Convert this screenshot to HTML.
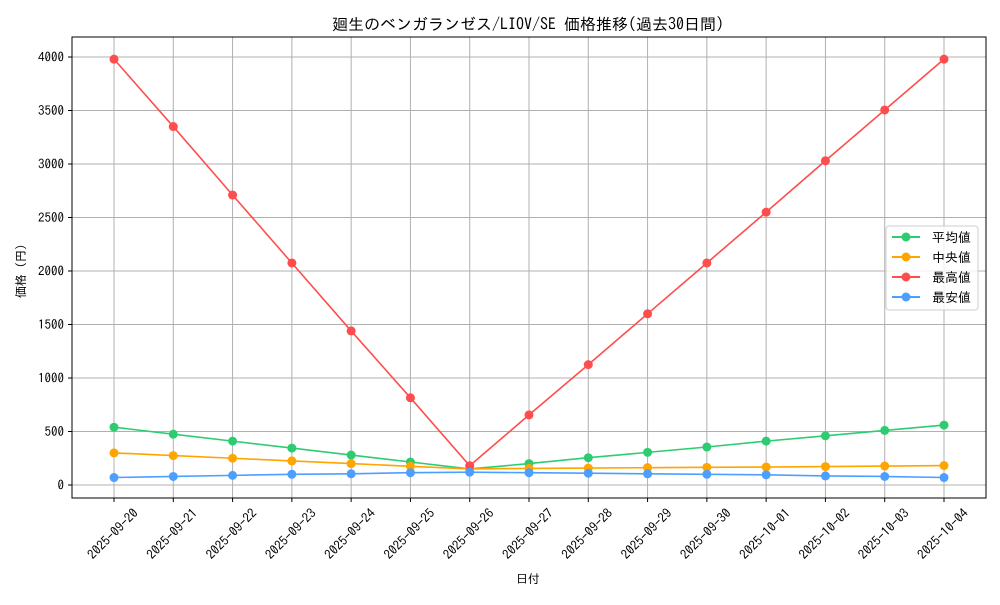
<!DOCTYPE html>
<html><head><meta charset="utf-8"><style>
html,body{margin:0;padding:0;background:#fff}
svg text{font-family:"IPAGothic","Liberation Sans","Noto Sans CJK JP",sans-serif;fill:#000}
</style></head><body>
<svg id="c" width="1000" height="600" xmlns="http://www.w3.org/2000/svg">
<rect width="1000" height="600" fill="#fff"/>
<text x="528" y="30" font-size="16" text-anchor="middle">廻生のベンガランゼス/LIOV/SE 価格推移(過去30日間)</text>
<text x="528" y="583" font-size="12" text-anchor="middle">日付</text>
<text transform="translate(25,271) rotate(-90)" font-size="12" text-anchor="middle">価格 (円)</text>
<g id="g"></g>
<rect x="72" y="37" width="914" height="461" fill="none" stroke="#000" stroke-width="1"/>
<g transform="translate(886,226)">
<rect x="0" y="0" width="92" height="84" rx="3" fill="#fff" fill-opacity="0.8" stroke="#ccc"/>
<line x1="6" y1="11" x2="34" y2="11" stroke="#2ecc71" stroke-width="2"/><circle cx="20" cy="11" r="4.5" fill="#2ecc71"/><text x="46" y="16" font-size="13">平均値</text>
<line x1="6" y1="31" x2="34" y2="31" stroke="#ffa500" stroke-width="2"/><circle cx="20" cy="31" r="4.5" fill="#ffa500"/><text x="46" y="36" font-size="13">中央値</text>
<line x1="6" y1="51" x2="34" y2="51" stroke="#ff4d4d" stroke-width="2"/><circle cx="20" cy="51" r="4.5" fill="#ff4d4d"/><text x="46" y="56" font-size="13">最高値</text>
<line x1="6" y1="71" x2="34" y2="71" stroke="#4d9fff" stroke-width="2"/><circle cx="20" cy="71" r="4.5" fill="#4d9fff"/><text x="46" y="76" font-size="13">最安値</text>
</g>
</svg>
<script>
var g=document.getElementById('g'),h="";
function X(i){return 114+59.286*i}function Y(v){return 485-v*0.107}
for(var v=0;v<=4000;v+=500){var y=Y(v);h+='<line x1="72" x2="986" y1="'+y+'" y2="'+y+'" stroke="#b0b0b0" stroke-width="1"/><line x1="68" x2="72" y1="'+y+'" y2="'+y+'" stroke="#000"/><text x="64" y="'+(y+4.5)+'" font-size="13" text-anchor="end">'+v+'</text>';}
var d=["2025-09-20","2025-09-21","2025-09-22","2025-09-23","2025-09-24","2025-09-25","2025-09-26","2025-09-27","2025-09-28","2025-09-29","2025-09-30","2025-10-01","2025-10-02","2025-10-03","2025-10-04"];
for(var i=0;i<15;i++){var x=X(i);h+='<line x1="'+x+'" x2="'+x+'" y1="37" y2="498" stroke="#b0b0b0" stroke-width="1"/><line x1="'+x+'" x2="'+x+'" y1="498" y2="502" stroke="#000"/><text transform="translate('+(x+2)+',537) rotate(-45)" font-size="13" text-anchor="middle">'+d[i]+'</text>';}
var S=[["#2ecc71",[540,475,410,345,280,215,150,200,255,305,355,410,460,510,560]],["#ffa500",[300,275,250,225,200,175,150,155,158,162,165,168,172,177,182]],["#ff4d4d",[3980,3350,2710,2075,1440,815,180,655,1125,1600,2075,2550,3030,3505,3980]],["#4d9fff",[70,80,90,100,105,115,120,115,110,105,100,95,85,80,70]]];
S.forEach(function(s){var p=s[1].map(function(v,i){return X(i)+','+Y(v)}).join(' ');h+='<polyline points="'+p+'" fill="none" stroke="'+s[0]+'" stroke-width="1.6"/>';s[1].forEach(function(v,i){h+='<circle cx="'+X(i)+'" cy="'+Y(v)+'" r="4.5" fill="'+s[0]+'"/>'});});
g.innerHTML=h;
</script>
</body></html>
